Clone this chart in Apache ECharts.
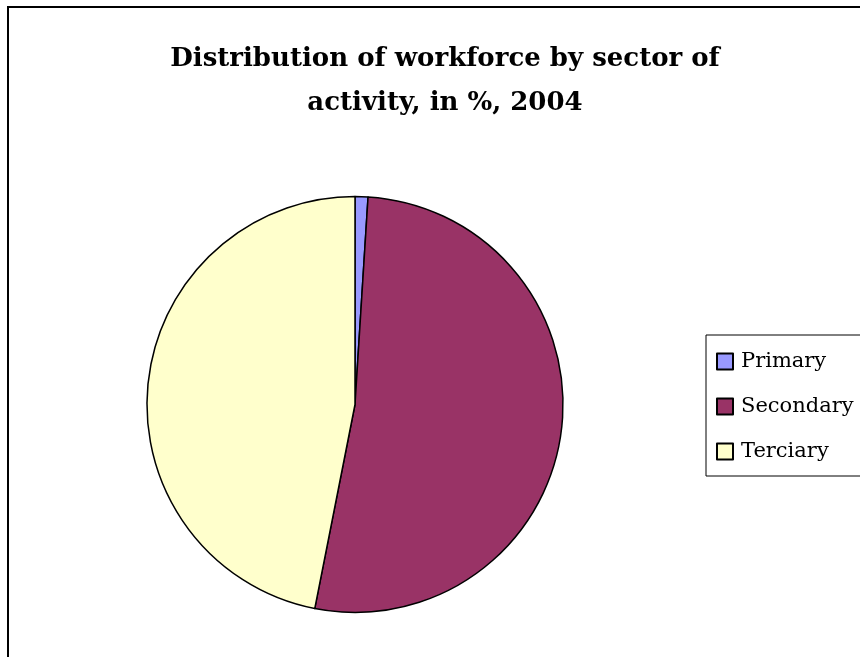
<!DOCTYPE html>
<html>
<head>
<meta charset="utf-8">
<script src="https://cdn.jsdelivr.net/npm/echarts@6/dist/echarts.min.js"></script>
<style>
  html, body { margin: 0; padding: 0; background: #fff; }
  #chart { width: 860px; height: 657px; }
</style>
</head>
<body>
<div id="chart"></div>
<script>
// Workforce shares by sector, 2004 (%)
const sectors = ['Primary', 'Secondary', 'Terciary'];
const shares = [1.0, 52.1, 46.9];
const sectorColors = ['#9999FF', '#993366', '#FFFFCC'];

const titleText = 'Distribution of workforce by sector of\nactivity, in %, 2004';
const serif = '"DejaVu Serif", "Liberation Serif", serif';

const chart = echarts.init(document.getElementById('chart'), null, { renderer: 'canvas' });

chart.setOption({
  animation: false,
  backgroundColor: '#ffffff',
  title: {
    text: titleText,
    left: 440,
    top: 32,
    textAlign: 'center',
    textStyle: {
      fontFamily: serif,
      fontWeight: 'bold',
      fontSize: 26,
      lineHeight: 44,
      color: '#000'
    }
  },
  legend: {
    orient: 'vertical',
    left: 706,
    top: 335,
    padding: [16, 40, 14, 10],
    itemGap: 24,
    itemWidth: 16,
    itemHeight: 16,
    icon: 'rect',
    borderColor: '#000',
    borderWidth: 1,
    textStyle: {
      fontFamily: serif,
      fontSize: 21,
      color: '#000',
      padding: [0, 0, 0, 3]
    },
    data: sectors
  },
  graphic: [{
    type: 'rect',
    shape: { x: 8, y: 7, width: 900, height: 700 },
    style: { fill: 'none', stroke: '#000', lineWidth: 2 },
    silent: true
  }],
  series: [{
    type: 'pie',
    center: [355, 404.5],
    radius: 208,
    startAngle: 90,
    clockwise: true,
    label: { show: false },
    labelLine: { show: false },
    emphasis: { disabled: true },
    itemStyle: { borderColor: '#000', borderWidth: 1.5 },
    data: sectors.map((name, i) => ({
      name,
      value: shares[i],
      itemStyle: { color: sectorColors[i] }
    }))
  }]
});
</script>
</body>
</html>
